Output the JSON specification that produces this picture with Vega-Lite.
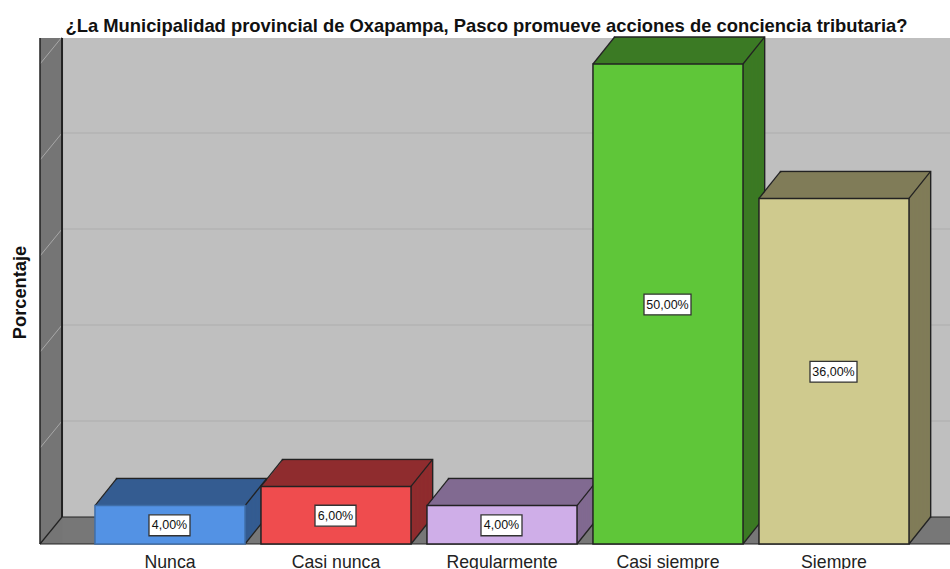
{"$schema":"https://vega.github.io/schema/vega-lite/v6.json","width":910,"height":506,"autosize":"none","padding":{"left":40,"top":38,"right":0,"bottom":25},"background":"white","view":{"fill":"#bfbfbf","stroke":null},"title":{"text":"¿La Municipalidad provincial de Oxapampa, Pasco promueve acciones de conciencia tributaria?","font":"Liberation Sans","fontSize":18.4,"fontWeight":"bold","color":"#111111","anchor":"middle","dx":-8.5,"offset":1},"datasets":{"barras":[{"categoria":"Nunca","porcentaje":4,"etiqueta":"4,00%"},{"categoria":"Casi nunca","porcentaje":6,"etiqueta":"6,00%"},{"categoria":"Regularmente","porcentaje":4,"etiqueta":"4,00%"},{"categoria":"Casi siempre","porcentaje":50,"etiqueta":"50,00%"},{"categoria":"Siempre","porcentaje":36,"etiqueta":"36,00%"}],"rejilla":[{"v":10},{"v":20},{"v":30},{"v":40},{"v":50}],"pared":[{"pared":"fondo"}]},"resolve":{"scale":{"x":"independent","color":"independent"},"axis":{"x":"independent"}},"layer":[{"data":{"name":"pared"},"encoding":{"y":{"type":"quantitative","scale":{"domain":[0,52.708],"nice":false},"axis":{"title":"Porcentaje","labels":false,"ticks":false,"domain":false,"grid":false,"values":[],"titleFont":"Liberation Sans","titleFontSize":18.3,"titleFontWeight":"bold","titleColor":"#111111","titleX":-11,"titleY":254}}},"layer":[{"mark":{"type":"rect","color":"#777777"},"encoding":{"x":{"datum":0,"type":"quantitative","scale":{"domain":[0,100],"nice":false},"axis":null},"x2":{"datum":100},"y":{"datum":0},"y2":{"datum":2.8125}}},{"mark":{"type":"rect","color":"#757575"},"encoding":{"x":{"datum":0,"type":"quantitative"},"x2":{"datum":2.42},"y":{"datum":0},"y2":{"datum":52.708}}},{"data":{"name":"rejilla"},"transform":[{"filter":"datum.v<50"}],"mark":{"type":"rule","color":"#b3b3b3","strokeWidth":1.5,"yOffset":-27,"y2Offset":-27},"encoding":{"x":{"datum":2.42,"type":"quantitative"},"x2":{"datum":100},"y":{"field":"v"},"y2":{"field":"v"}}},{"data":{"name":"rejilla"},"mark":{"type":"rule","color":"#a8a8a8","strokeWidth":1,"yOffset":-27},"encoding":{"x":{"datum":2.42,"type":"quantitative"},"x2":{"datum":0},"y":{"field":"v"},"y2":{"field":"v"}}},{"mark":{"type":"rule","color":"#222222","strokeWidth":1.5},"encoding":{"x":{"datum":0,"type":"quantitative"},"x2":{"datum":0},"y":{"datum":0},"y2":{"datum":52.708}}},{"mark":{"type":"rule","color":"#222222","strokeWidth":2},"encoding":{"x":{"datum":2.42,"type":"quantitative"},"x2":{"datum":2.42},"y":{"datum":2.8125},"y2":{"datum":52.708}}},{"mark":{"type":"rule","color":"#222222","strokeWidth":1.2},"encoding":{"x":{"datum":2.42,"type":"quantitative"},"x2":{"datum":100},"y":{"datum":2.8125},"y2":{"datum":2.8125}}},{"mark":{"type":"rule","color":"#222222","strokeWidth":1.2},"encoding":{"x":{"datum":0,"type":"quantitative"},"x2":{"datum":100},"y":{"datum":0},"y2":{"datum":0}}},{"mark":{"type":"rule","color":"#222222","strokeWidth":1.2},"encoding":{"x":{"datum":0,"type":"quantitative"},"x2":{"datum":2.42},"y":{"datum":0},"y2":{"datum":2.8125}}}]},{"data":{"name":"barras"},"encoding":{"x":{"field":"categoria","type":"nominal","sort":null,"title":null,"scale":{"domain":["Nunca","Casi nunca","Regularmente","Casi siempre","Siempre"],"range":[47,877],"paddingInner":0.096,"paddingOuter":0.048},"axis":{"orient":"bottom","labelAngle":0,"ticks":false,"domain":false,"labelFont":"Liberation Sans","labelFontSize":17.7,"labelColor":"#222222","labelPadding":9}},"y":{"field":"porcentaje","type":"quantitative","scale":{"domain":[0,52.708],"nice":false}},"color":{"field":"categoria","type":"nominal","legend":null,"sort":null,"scale":{"domain":["Nunca","Casi nunca","Regularmente","Casi siempre","Siempre"],"range":["#345c91","#8f2c2e","#816a91","#3b7a24","#807c58"]}}},"layer":[{"mark":{"type":"bar","xOffset":21.6,"yOffset":-27,"stroke":"#222222","strokeWidth":1.5}},{"mark":{"type":"bar","xOffset":20.8,"yOffset":-26}},{"mark":{"type":"bar","xOffset":20,"yOffset":-25}},{"mark":{"type":"bar","xOffset":19.2,"yOffset":-24}},{"mark":{"type":"bar","xOffset":18.4,"yOffset":-23}},{"mark":{"type":"bar","xOffset":17.6,"yOffset":-22}},{"mark":{"type":"bar","xOffset":16.8,"yOffset":-21}},{"mark":{"type":"bar","xOffset":16,"yOffset":-20}},{"mark":{"type":"bar","xOffset":15.2,"yOffset":-19}},{"mark":{"type":"bar","xOffset":14.4,"yOffset":-18}},{"mark":{"type":"bar","xOffset":13.6,"yOffset":-17}},{"mark":{"type":"bar","xOffset":12.8,"yOffset":-16}},{"mark":{"type":"bar","xOffset":12,"yOffset":-15}},{"mark":{"type":"bar","xOffset":11.2,"yOffset":-14}},{"mark":{"type":"bar","xOffset":10.4,"yOffset":-13}},{"mark":{"type":"bar","xOffset":9.6,"yOffset":-12}},{"mark":{"type":"bar","xOffset":8.8,"yOffset":-11}},{"mark":{"type":"bar","xOffset":8,"yOffset":-10}},{"mark":{"type":"bar","xOffset":7.2,"yOffset":-9}},{"mark":{"type":"bar","xOffset":6.4,"yOffset":-8}},{"mark":{"type":"bar","xOffset":5.6,"yOffset":-7}},{"mark":{"type":"bar","xOffset":4.8,"yOffset":-6}},{"mark":{"type":"bar","xOffset":4,"yOffset":-5}},{"mark":{"type":"bar","xOffset":3.2,"yOffset":-4}},{"mark":{"type":"bar","xOffset":2.4,"yOffset":-3}},{"mark":{"type":"bar","xOffset":1.6,"yOffset":-2}},{"mark":{"type":"bar","xOffset":0.8,"yOffset":-1}},{"mark":{"type":"rule","color":"#222222","strokeWidth":1.3,"xOffset":75,"x2Offset":96.6,"y2Offset":-27},"encoding":{"x":{"field":"categoria","type":"nominal","sort":null},"x2":{"field":"categoria"},"color":{"value":"#222222"},"y2":{"field":"porcentaje"}}},{"mark":{"type":"rule","color":"#222222","strokeWidth":1.3,"xOffset":-75,"x2Offset":-53.4,"y2Offset":-27},"encoding":{"x":{"field":"categoria","type":"nominal","sort":null},"x2":{"field":"categoria"},"color":{"value":"#222222"},"y2":{"field":"porcentaje"}}},{"mark":{"type":"rule","color":"#222222","strokeWidth":1.3,"xOffset":75,"x2Offset":96.6,"y2Offset":-27},"encoding":{"x":{"field":"categoria","type":"nominal","sort":null},"x2":{"field":"categoria"},"color":{"value":"#222222"},"y":{"datum":0},"y2":{"datum":0}}},{"mark":{"type":"bar","strokeWidth":1.5},"encoding":{"color":{"value":null},"fill":{"field":"categoria","type":"nominal","legend":null,"sort":null,"scale":{"domain":["Nunca","Casi nunca","Regularmente","Casi siempre","Siempre"],"range":["#5392e4","#ef4c4e","#cfaee8","#5fc639","#cfca8e"]}},"stroke":{"field":"categoria","type":"nominal","legend":null,"sort":null,"scale":{"domain":["Nunca","Casi nunca","Regularmente","Casi siempre","Siempre"],"range":["#3f6ea8","#222222","#222222","#222222","#222222"]}}}},{"transform":[{"filter":"datum.porcentaje<10"},{"calculate":"datum.porcentaje/2","as":"medio"}],"mark":{"type":"point","shape":"M -1 -0.51 H 1 V 0.51 H -1 Z","filled":true,"fill":"#ffffff","stroke":"#333333","strokeWidth":1.3,"opacity":1,"size":1681,"xOffset":-0.5,"yOffset":0.5},"encoding":{"color":{"value":null},"y":{"field":"medio","type":"quantitative"}}},{"transform":[{"filter":"datum.porcentaje>=10"},{"calculate":"datum.porcentaje/2","as":"medio"}],"mark":{"type":"point","shape":"M -1 -0.44 H 1 V 0.44 H -1 Z","filled":true,"fill":"#ffffff","stroke":"#333333","strokeWidth":1.3,"opacity":1,"size":2209,"xOffset":-0.5,"yOffset":0.5},"encoding":{"color":{"value":null},"y":{"field":"medio","type":"quantitative"}}},{"transform":[{"calculate":"datum.porcentaje/2","as":"medio"}],"mark":{"type":"text","font":"Liberation Sans","fontSize":12.5,"color":"#111111","xOffset":-0.5,"yOffset":0.7},"encoding":{"color":{"value":"#111111"},"y":{"field":"medio","type":"quantitative"},"text":{"field":"etiqueta"}}}]}]}
